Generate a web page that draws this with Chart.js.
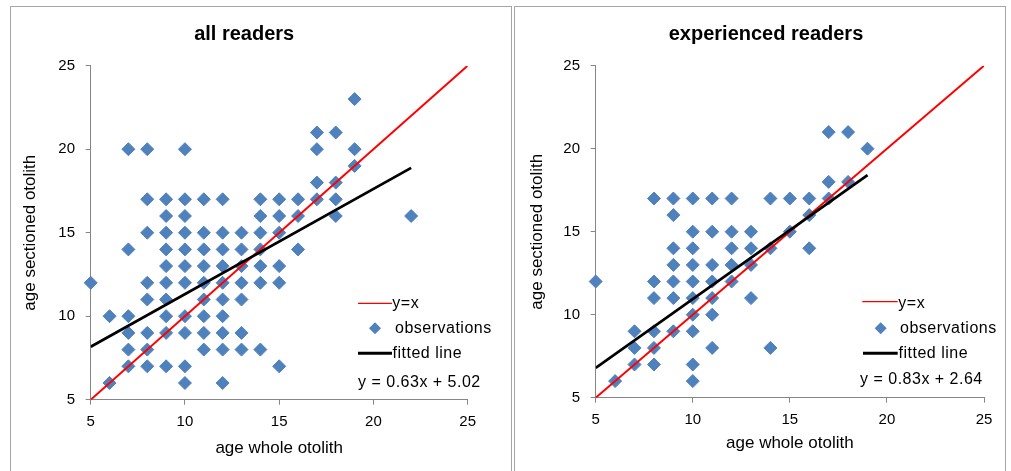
<!DOCTYPE html>
<html><head><meta charset="utf-8">
<script src="https://cdn.jsdelivr.net/npm/chart.js@4.4.1/dist/chart.umd.min.js"></script>
<style>
html,body{margin:0;padding:0;background:#fff;}
body{width:1011px;height:471px;position:relative;overflow:hidden;}
.frame{position:absolute;border:1px solid #a6a6a6;border-bottom:none;box-sizing:border-box;}
canvas{position:absolute;top:0;}
</style></head><body>
<div class="frame" style="left:10px;top:6px;width:502px;height:470px"></div>
<div class="frame" style="left:514px;top:6px;width:492px;height:470px"></div>
<canvas id="chartAll" width="512" height="471" style="left:0"></canvas>
<canvas id="chartExp" width="499" height="471" style="left:512px"></canvas>
<script>
// ---- data ----
const axisMin = 5, axisMax = 25, tickStep = 5;
const titles = ['all readers', 'experienced readers'];
const xAxisTitle = 'age whole otolith';
const yAxisTitle = 'age sectioned otolith';
const legendLabels = ['y=x', 'observations', 'fitted line'];
const equations = ['y = 0.63x + 5.02', 'y = 0.83x + 2.64'];

// all readers: age whole otolith (x) / age sectioned otolith (y)
const allWhole = [
  5,
  6,6,
  7,7,7,7,7,7,
  8,8,8,8,8,8,8,8,
  9,9,9,9,9,9,9,9,9,9,
  10,10,10,10,10,10,10,10,10,10,10,
  11,11,11,11,11,11,11,11,11,
  12,12,12,12,12,12,12,12,12,12,
  13,13,13,13,13,13,13,
  14,14,14,14,14,14,14,
  15,15,15,15,15,15,
  16,16,16,
  17,17,17,17,
  18,18,18,18,
  19,19,19,
  22
];
const allSectioned = [
  12,
  10,6,
  20,14,10,9,8,7,
  20,17,15,12,11,9,8,7,
  17,16,15,14,13,12,11,10,9,7,
  20,17,16,15,14,13,12,10,9,7,6,
  17,15,14,13,12,11,10,9,8,
  17,15,14,13,12,11,10,9,8,6,
  15,14,13,12,11,9,8,
  17,16,15,14,13,12,8,
  17,16,15,13,12,7,
  17,16,14,
  21,20,18,17,
  21,18,17,16,
  23,20,19,
  16
];

// experienced readers
const expWhole = [
  5,
  6,
  7,7,7,
  8,8,8,8,8,8,
  9,9,9,9,9,9,9,
  10,10,10,10,10,10,10,10,10,10,
  11,11,11,11,11,11,11,
  12,12,12,12,12,
  13,13,13,13,
  14,14,14,
  15,15,
  16,16,16,
  17,17,17,
  18,18,
  19
];
const expSectioned = [
  12,
  6,
  9,8,7,
  17,12,11,9,8,7,
  17,16,14,13,12,11,9,
  17,15,14,13,12,11,10,9,7,6,
  17,15,13,12,11,10,8,
  17,15,14,13,12,
  15,14,13,11,
  17,14,8,
  17,15,
  17,16,14,
  21,18,17,
  21,18,
  20
];

const identityX = [5, 25];
const identityY = [5, 25];
const allFitX = [5, 22];
const allFitY = [8.17, 18.88];
const expFitX = [5, 19];
const expFitY = [6.79, 18.41];

// ---- styles / layout ----
const FONT = "'Liberation Sans', Arial, Helvetica, sans-serif";
const BLUE = '#4F81BD';
const AXIS = '#868686';

const panels = [
  {id:'chartAll', offsetX:0, width:512, height:471,
   plotLeft:90.7, plotRight:467.7, plotTop:65.7, plotBottom:399.7,
   yTitleX:30, xTitleY:448.5, titleX:244.2, titleBase:40,
   redLine:[358,392,303.3], blackLine:[358,392,353.3], diamond:[375,328.3],
   textX:[392.3,395,392.5], textBase:[308.3,333.3,357.7], eq:[358,386.7]},
  {id:'chartExp', offsetX:512, width:499, height:471,
   plotLeft:595.7, plotRight:984, plotTop:65.7, plotBottom:397.7,
   yTitleX:537, xTitleY:443, titleX:766, titleBase:40,
   redLine:[862.3,897.7,301.7], blackLine:[863,897.7,353.3], diamond:[880.7,328.3],
   textX:[898.3,900,898.5], textBase:[308.3,332.7,358.3], eq:[860,384]}
];

function toPoints(xs, ys){ return xs.map((x,i)=>({x:x, y:ys[i]})); }

function makeChart(idx, obsX, obsY, fitX, fitY){
  const p = panels[idx];
  const titleLH = 17*1.2;
  const overlay = {
    id:'overlay'+idx,
    afterDraw(chart){
      const ctx = chart.ctx, o = p.offsetX;
      ctx.save();
      // title
      ctx.fillStyle = '#000';
      ctx.font = 'bold 20px ' + FONT;
      ctx.textAlign = 'center';
      ctx.textBaseline = 'alphabetic';
      ctx.fillText(titles[idx], p.titleX - o, p.titleBase);
      // legend
      ctx.lineCap = 'butt';
      ctx.strokeStyle = '#FF0000'; ctx.lineWidth = 1.2;
      ctx.beginPath(); ctx.moveTo(p.redLine[0]-o, p.redLine[2]); ctx.lineTo(p.redLine[1]-o, p.redLine[2]); ctx.stroke();
      ctx.strokeStyle = '#000'; ctx.lineWidth = 3;
      ctx.beginPath(); ctx.moveTo(p.blackLine[0]-o, p.blackLine[2]); ctx.lineTo(p.blackLine[1]-o, p.blackLine[2]); ctx.stroke();
      const dx = p.diamond[0]-o, dy = p.diamond[1], r = 6;
      ctx.fillStyle = BLUE;
      ctx.beginPath(); ctx.moveTo(dx-r,dy); ctx.lineTo(dx,dy-r); ctx.lineTo(dx+r,dy); ctx.lineTo(dx,dy+r); ctx.closePath(); ctx.fill();
      ctx.fillStyle = '#000';
      ctx.font = '16px ' + FONT;
      try { ctx.letterSpacing = '0.5px'; } catch(e) {}
      ctx.textAlign = 'left';
      for (let i=0;i<3;i++) ctx.fillText(legendLabels[i], p.textX[i]-o, p.textBase[i]);
      ctx.fillText(equations[idx], p.eq[0]-o, p.eq[1]);
      ctx.restore();
    }
  };
  return new Chart(document.getElementById(p.id), {
    type:'scatter',
    data:{datasets:[
      {label:legendLabels[2], type:'line', data:toPoints(fitX, fitY), borderColor:'#000', borderWidth:2.75,
       pointRadius:0, fill:false, showLine:true},
      {label:legendLabels[0], type:'line', data:toPoints(identityX, identityY), borderColor:'#FF0000', borderWidth:2,
       pointRadius:0, fill:false, showLine:true},
      {label:legendLabels[1], data:toPoints(obsX, obsY), pointStyle:'rectRot', pointRadius:6.5,
       backgroundColor:BLUE, borderColor:BLUE, borderWidth:1, clip:false}
    ]},
    options:{
      responsive:false, animation:false, devicePixelRatio:1,
      layout:{padding:{left:0, top:p.plotTop, right:p.offsetX + p.width - p.plotRight, bottom:0}},
      plugins:{legend:{display:false}, tooltip:{enabled:false}, title:{display:false}},
      scales:{
        x:{type:'linear', min:axisMin, max:axisMax,
           ticks:{stepSize:tickStep, color:'#000', font:{family:FONT, size:15}, padding:8.5, maxRotation:0},
           grid:{drawOnChartArea:false, drawTicks:true, tickLength:5, color:AXIS},
           border:{display:true, color:AXIS, width:1},
           title:{display:true, text:xAxisTitle, color:'#000', font:{family:FONT, size:17},
                  padding:{top:0, bottom:p.height - p.xTitleY - titleLH/2}},
           afterFit(s){ s.height = p.height - p.plotBottom; s.paddingLeft = 0; s.paddingRight = 0; }},
        y:{type:'linear', min:axisMin, max:axisMax,
           ticks:{stepSize:tickStep, color:'#000', font:{family:FONT, size:15}, padding:10.7},
           grid:{drawOnChartArea:false, drawTicks:true, tickLength:5, color:AXIS},
           border:{display:true, color:AXIS, width:1},
           title:{display:true, text:yAxisTitle, color:'#000', font:{family:FONT, size:17},
                  padding:{top:p.yTitleX - p.offsetX - titleLH/2, bottom:0}},
           afterFit(s){ s.width = p.plotLeft - p.offsetX; s.paddingTop = 0; s.paddingBottom = 0; }}
      }
    },
    plugins:[overlay]
  });
}

makeChart(0, allWhole, allSectioned, allFitX, allFitY);
makeChart(1, expWhole, expSectioned, expFitX, expFitY);
</script>
</body></html>
